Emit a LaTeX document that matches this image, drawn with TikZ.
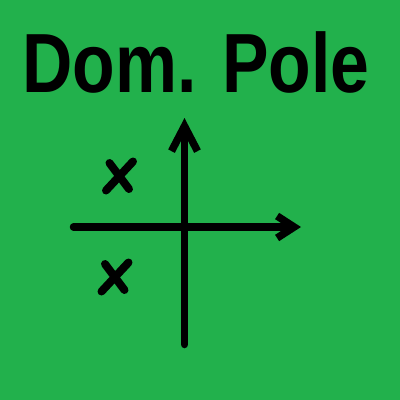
\documentclass[tikz,border=0pt]{standalone}
\usepackage{fontspec}
\setmainfont{Liberation Sans}
\usetikzlibrary{arrows.meta}
\definecolor{polegreen}{RGB}{34,177,76}

\begin{document}
\begin{tikzpicture}[x=1pt,y=-1pt,line width=7.5pt,line cap=round,line join=round,
  realaxis/.style={-{Straight Barb[length=17pt,width=22pt]}},
  imagaxis/.style={-{Straight Barb[length=25pt,width=26pt]}},
  pole/.style={line width=8pt}]
  \fill[polegreen] (0,0) rectangle (400,400);
  \node[anchor=base,inner sep=0pt,font=\bfseries\fontsize{84}{84}\selectfont] (title) at (196,92) {\scalebox{0.83}[1]{Dom. Pole}};
  \coordinate (xl) at (73.5,227); \coordinate (xr) at (301,227);
  \coordinate (yb) at (184.5,344.5); \coordinate (yt) at (184.5,118);
  \draw[realaxis] (xl) -- (xr);
  \draw[imagaxis] (yb) -- (yt);
  \foreach \p in {(119.5,176),(115,277)}
    \draw[pole,shift={\p}] (-10,-13) -- (9.5,13) (13.5,-14.5) -- (-13.5,14.5);
\end{tikzpicture}
\end{document}
